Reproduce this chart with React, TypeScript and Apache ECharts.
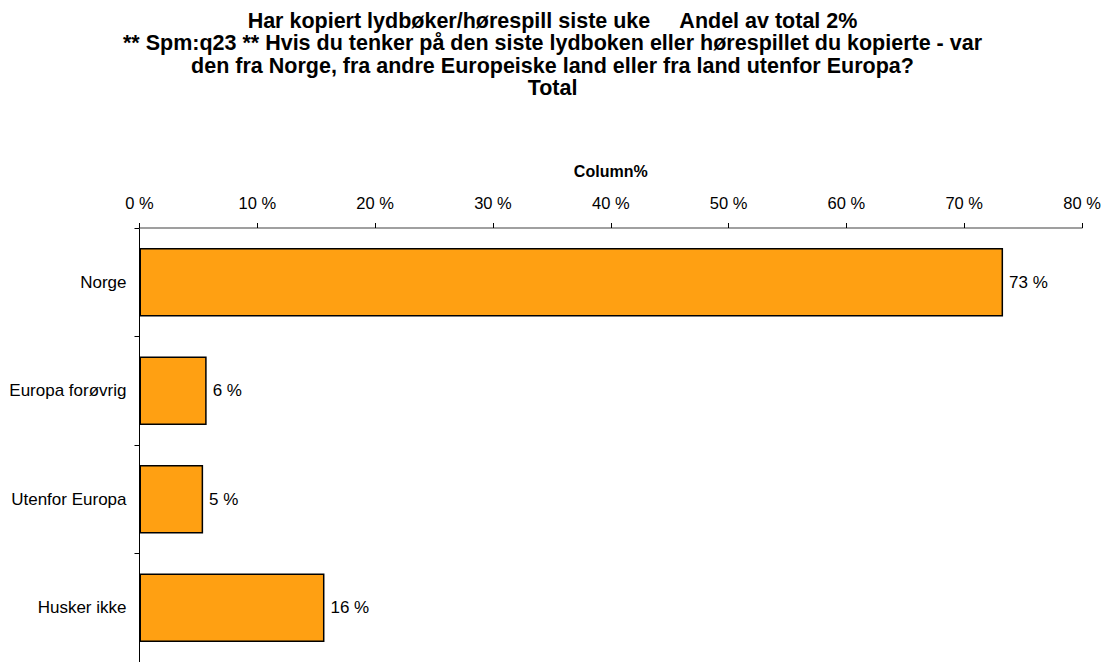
import React, { useEffect, useRef } from "react";
import * as echarts from "echarts";

const categories = ["Norge", "Europa forøvrig", "Utenfor Europa", "Husker ikke"];
const values = [73.3, 5.7, 5.4, 15.7];
const xTicks = [0, 10, 20, 30, 40, 50, 60, 70, 80];
const titleLines = [
  "Har kopiert lydbøker/hørespill siste uke     Andel av total 2%",
  "** Spm:q23 ** Hvis du tenker på den siste lydboken eller hørespillet du kopierte - var",
  "den fra Norge, fra andre Europeiske land eller fra land utenfor Europa?",
  "Total",
];

export default function App() {
  const ref = useRef<HTMLDivElement>(null);
  useEffect(() => {
    if (!ref.current) return;
    const chart = echarts.init(ref.current, undefined, { renderer: "svg" });
    const font = "Liberation Sans, Arial, sans-serif";
    chart.setOption({
      animation: false,
      backgroundColor: "#ffffff",
      title: {
        text: titleLines.join("\n"),
        left: "center",
        top: 5,
        textStyle: {
          fontFamily: font,
          fontSize: 21.5,
          fontWeight: "bold",
          color: "#000",
          lineHeight: 22.3,
        },
      },
      grid: { left: 139.5, top: 228, width: 942.5, height: 436, containLabel: false },
      xAxis: {
        type: "value",
        position: "top",
        min: xTicks[0],
        max: xTicks[xTicks.length - 1],
        interval: 10,
        name: "Column%",
        nameLocation: "middle",
        nameGap: 49,
        nameTextStyle: { fontFamily: font, fontSize: 16, fontWeight: "bold", color: "#000" },
        axisLine: { show: true, lineStyle: { color: "#808080", width: 1.5 } },
        axisTick: { show: true, inside: false, length: 5, lineStyle: { color: "#000" } },
        axisLabel: {
          fontFamily: font,
          fontSize: 16.5,
          color: "#000",
          margin: 17,
          formatter: (v: number) => `${v} %`,
        },
        splitLine: { show: false },
      },
      yAxis: {
        type: "category",
        inverse: true,
        data: categories,
        axisLine: { show: true, lineStyle: { color: "#000", width: 1 } },
        axisTick: { show: true, length: 5, lineStyle: { color: "#000" } },
        axisLabel: { fontFamily: font, fontSize: 17, color: "#000", margin: 13 },
      },
      series: [
        {
          type: "bar",
          data: values,
          barCategoryGap: "37%",
          itemStyle: { color: "#FFA012", borderColor: "#000", borderWidth: 1.5 },
          label: {
            show: true,
            position: "right",
            distance: 6,
            fontFamily: font,
            fontSize: 17,
            color: "#000",
            formatter: (p: any) => `${Math.round(p.value)} %`,
          },
        },
      ],
    });
    return () => chart.dispose();
  }, []);
  return (
    <div
      ref={ref}
      style={{ position: "fixed", left: 0, top: 0, width: 1105, height: 662 }}
    />
  );
}
